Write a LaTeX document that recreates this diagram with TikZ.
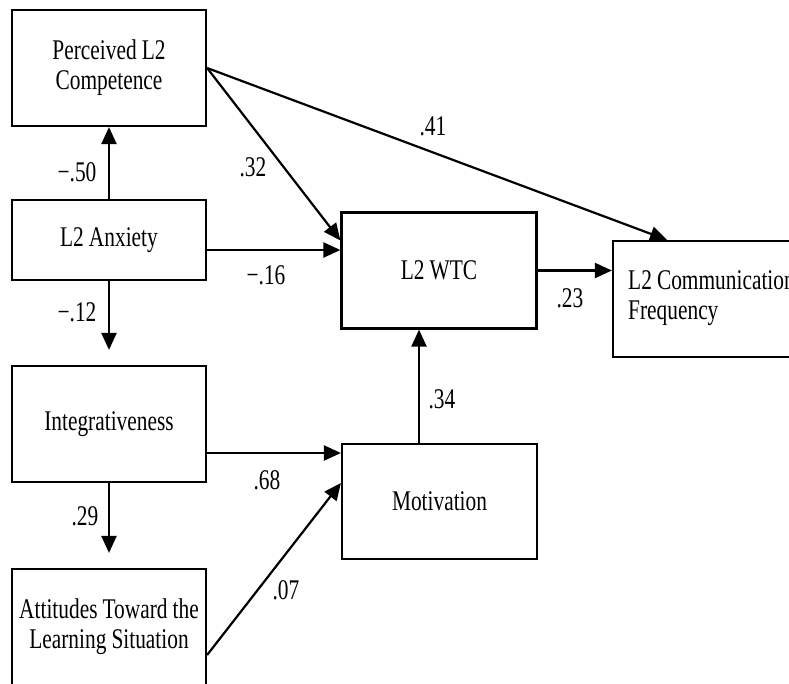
\documentclass[tikz,border=0pt]{standalone}
\usepackage{fontspec}
\setmainfont[FakeStretch=0.75,WordSpace=0.95]{Liberation Serif}
\usetikzlibrary{arrows.meta,calc}
\begin{document}
\begin{tikzpicture}[x=1pt,y=-1pt,
  box/.style={draw,line width=2.2pt,rectangle,minimum width=194pt,minimum height=116pt,align=center,inner sep=2pt,font=\fontsize{28.5pt}{30pt}\selectfont},
  arr/.style={line width=2.2pt,-{Triangle[length=17pt,width=15pt]}},
  lbl/.style={inner sep=0pt,font=\fontsize{28.5pt}{30pt}\selectfont}]
\useasboundingbox (0,0) rectangle (789,683);
\clip (0,0) rectangle (789,683);
\fill[white] (0,0) rectangle (789,683);
% boxes
\node[box] (perc) at (109,68) {Perceived L2\\Competence};
\node[box,minimum height=80pt] (anx) at (109,240) {L2 Anxiety};
\node[box] (integ) at (109,424) {Integrativeness};
\node[box] (att) at (109,627) {Attitudes Toward the\\Learning Situation};
\node[box,minimum width=195pt] (wtc) at (439,270.5) {L2 WTC};
\node[box,minimum width=195pt,minimum height=115pt] (mot) at (439.5,501.5) {Motivation};
\node[box] (l2cf) at (710,299) {};
\node[lbl,anchor=west,align=left] (l2cftext) at (628,298) {L2 Communication\\Frequency};
% connectors
\draw[arr] (anx.north) -- (perc.south);
\draw[arr,shorten >=15pt] (anx.south) -- (integ.north);
\draw[arr,shorten >=15pt] (integ.south) -- (att.north);
\draw[arr] (perc.east) -- ([yshift=30pt]wtc.west);
\draw[arr] (perc.east) -- ([xshift=-43pt]l2cf.north);
\coordinate (a1) at ([yshift=-10pt]anx.east);
\draw[arr] (a1) -- (a1 -| wtc.west);
\coordinate (i1) at ([yshift=-29pt]integ.east);
\draw[arr] (i1) -- (i1 -| mot.west);
\draw[arr] ([yshift=-28pt]att.east) -- ([yshift=18.5pt]mot.west);
\coordinate (m1) at ([xshift=-20.5pt]mot.north);
\draw[arr] (m1) -- (m1 |- wtc.south);
\draw[arr] (wtc.east) -- (wtc.east -| l2cf.west);
% labels
\node[lbl] (l50) at (77,172) {−.50};
\node[lbl] (l32) at (253,167) {.32};
\node[lbl] (l16) at (266,275) {−.16};
\node[lbl] (l12) at (77,312) {−.12};
\node[lbl] (l29) at (85,516) {.29};
\node[lbl] (l68) at (267,480) {.68};
\node[lbl] (l07) at (286,590) {.07};
\node[lbl] (l34) at (442,399) {.34};
\node[lbl] (l23) at (570,298) {.23};
\node[lbl] (l41) at (433,126) {.41};
\end{tikzpicture}
\end{document}
